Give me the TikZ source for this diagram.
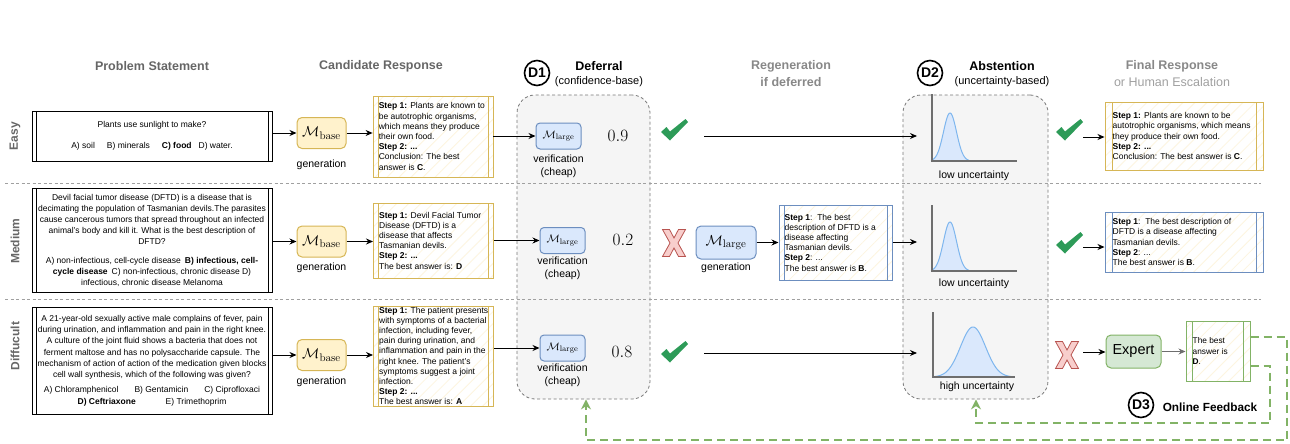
\documentclass[tikz,border=0pt]{standalone}
\usepackage[no-math]{fontspec}
\setmainfont{Liberation Sans}
\usetikzlibrary{arrows.meta,patterns.meta,calc}
\definecolor{ylS}{HTML}{D6B656}
\definecolor{ylF}{HTML}{FFF2CC}
\definecolor{ylH}{HTML}{FDF5E0}
\definecolor{blS}{HTML}{6C8EBF}
\definecolor{blF}{HTML}{DAE8FC}
\definecolor{grS}{HTML}{82B366}
\definecolor{grF}{HTML}{D5E8D4}
\definecolor{rdS}{HTML}{B85450}
\definecolor{rdF}{HTML}{F8CECC}
\definecolor{chkG}{HTML}{2D9B58}
\definecolor{hdG}{HTML}{666666}
\definecolor{hdM}{HTML}{888888}
\definecolor{hdL}{HTML}{A0A0A0}
\definecolor{regF}{HTML}{F5F5F5}
\definecolor{regS}{HTML}{777777}
\definecolor{crvB}{HTML}{7EB6EE}
\definecolor{axG}{HTML}{6E6E6E}
\newcommand{\fsz}[2]{\fontsize{#1}{#2}\selectfont}
\tikzset{
  hd/.style={font=\fsz{12.5}{14}\bfseries, text=hdG, inner sep=0pt},
  hdm/.style={font=\fsz{12.5}{14}\bfseries, text=hdM, inner sep=0pt},
  hdk/.style={font=\fsz{12.5}{14}\bfseries, text=black, inner sep=0pt},
  subk/.style={font=\fsz{11}{13}, text=black, inner sep=0pt},
  rowlab/.style={font=\fsz{12}{14}\bfseries, text=hdG, rotate=90, inner sep=0pt},
  dcirc/.style={circle, draw=black, line width=1.6pt, minimum size=25pt, inner sep=0pt, font=\fsz{14}{14}\bfseries},
  inlines/.style 2 args={path picture={\draw[#1] ([xshift=#2]path picture bounding box.north west) -- ([xshift=#2]path picture bounding box.south west) ([xshift=-#2]path picture bounding box.north east) -- ([xshift=-#2]path picture bounding box.south east);}},
  hatch/.style={preaction={fill=white}, pattern={Lines[angle=45,distance=8.5pt,line width=0.8pt]}, pattern color=ylH},
  probbox/.style={draw=black, line width=0.9pt, fill=white, minimum width=240pt, inner sep=0pt, inlines={black,line width=0.9pt}{4pt}},
  ptext/.style={align=center, inner sep=0pt, font=\fsz{8.5}{11}},
  candbox/.style={draw=#1, line width=1pt, hatch, inlines={#1,line width=1pt}{5pt}, inner sep=0pt},
  ctext/.style={align=left, inner sep=0pt, font=\fsz{8.5}{10.2}, anchor=west},
  mbase/.style={draw=ylS, fill=ylF, line width=1pt, rounded corners=5pt, minimum width=49pt, minimum height=31pt, inner sep=0pt, font=\fsz{15}{15}},
  mver/.style={draw=blS, fill=blF, line width=1pt, rounded corners=4pt, minimum width=45pt, minimum height=26pt, inner sep=0pt, font=\fsz{11}{11}},
  mgen/.style={draw=blS, fill=blF, line width=1pt, rounded corners=5pt, minimum width=60pt, minimum height=33pt, inner sep=0pt, font=\fsz{15}{15}},
  lab/.style={align=center, inner sep=0pt, font=\fsz{10.5}{12.8}},
  numb/.style={inner sep=0pt, font=\fsz{18}{18}},
  region/.style={draw=regS, fill=regF, line width=0.8pt, dash pattern=on 3pt off 2.5pt, rounded corners=18pt, inner sep=0pt, minimum width=#1, minimum height=304pt},
  sep/.style={draw=hdL, line width=0.8pt, dash pattern=on 3pt off 2.5pt},
  arr/.style={draw=black, line width=1pt, -{Stealth[length=7pt,width=6pt]}},
  fb/.style={draw=grS, line width=2.6pt, dash pattern=on 8pt off 5pt, -{Stealth[length=10pt,width=10pt]}},
  exbox/.style={draw=grS, fill=grF, line width=1pt, rounded corners=5pt, minimum width=55pt, minimum height=33pt, inner sep=0pt, font=\fsz{14.5}{14.5}},
  axis/.style={draw=axG, line width=1.4pt},
  crv/.style={draw=crvB, line width=1pt},
  chk/.pic={\fill[chkG] (-13,2) -- (-4,10.5) -- (14,-8) -- (11.5,-11) -- (-4,1.5) -- (-7.5,-3) -- cycle;},
  crs/.pic={\draw[rdS, fill=rdF, line width=0.8pt, line join=miter] (-11.5,-13.5) -- (-4.5,-13.5) -- (0,-5) -- (4.5,-13.5) -- (11.5,-13.5) -- (4,0) -- (11.5,13.5) -- (4.5,13.5) -- (0,5) -- (-4.5,13.5) -- (-11.5,13.5) -- (-4,0) -- cycle;}
}
\begin{document}
\begin{tikzpicture}[x=1pt,y=-1pt]
\useasboundingbox (0,0) rectangle (1290,444);
% regions
\node[region=133pt] (dfr) at (583.5,247) {};
\node[region=145pt] (abs) at (975.5,247) {};
% separators
\coordinate (sepA1) at (5,183); \coordinate (sepA2) at (1261,183);
\draw[sep] (sepA1) -- (sepA2);
\coordinate (sepB1) at (5,299); \coordinate (sepB2) at (1261,299);
\draw[sep] (sepB1) -- (sepB2);
% headings
\node[hd] (hPS) at (152,66) {Problem Statement};
\node[hd] (hCR) at (381,66) {Candidate Response};
\node[dcirc] (d1c) at (537,73) {D1};
\node[hdk] (hDef) at (599,66) {Deferral};
\node[subk] (hDefs) at (599,82) {(confidence-base)};
\node[hdm] (hReg) at (791,66) {Regeneration};
\node[hdm] (hReg2) at (791,82) {if deferred};
\node[dcirc] (d2c) at (930,73) {D2};
\node[hdk] (hAbs) at (1002,66) {Abstention};
\node[subk] (hAbss) at (1002,82) {(uncertainty-based)};
\node[hdm] (hFin) at (1172,66) {Final Response};
\node[font=\fsz{12.5}{14}, text=hdL, inner sep=0pt] (hFins) at (1172,82) {or Human Escalation};
% row labels
\node[rowlab] (lE) at (15,136) {Easy};
\node[rowlab] (lM) at (15,241) {Medium};
\node[rowlab] (lD) at (15,346) {Diffucult};

% ================= EASY =================
\node[probbox, minimum height=50pt] (p1) at (152,136) {};
\node[ptext] (p1t) at (p1.center) {Plants use sunlight to make?\\[10pt]A) soil\hspace{12pt}B) minerals\hspace{12pt}\textbf{C) food}\hspace{7pt}D) water.};
\node[mbase] (m1) at (321.5,133) {$\mathcal{M}_{\mathrm{base}}$};
\node[lab] (g1) at (321.5,165) {generation};
\draw[arr] (m1.west -| p1.east) -- (m1.west);
\node[candbox=ylS, minimum width=120pt, minimum height=81pt] (c1) at (433,136.5) {};
\node[ctext] (c1t) at ([xshift=6pt]c1.west) {\textbf{Step 1:} Plants are known to\\be autotrophic organisms,\\which means they produce\\their own food.\\\textbf{Step 2: ...}\\Conclusion: The best\\answer is \textbf{C}.};
\draw[arr] (m1.east) -- (m1.east -| c1.west);
\node[mver] (v1) at (558.5,136) {$\mathcal{M}_{\mathrm{large}}$};
\node[lab] (vl1) at (558.5,166) {verification\\(cheap)};
\draw[arr] (c1.east |- v1.west) -- (v1.west);
\node[numb] (n1) at (618,136) {$0.9$};
\pic at (674,130) {chk};
\coordinate (s1) at (704,136); \coordinate (e1) at (917,136);
\draw[arr] (s1) -- (e1);
\fill[blF] plot[domain=-19:19, samples=60] ({950+\x},{161-48*exp(-(\x)^2/85)}) -- cycle;
\draw[crv] plot[domain=-19:19, samples=60] ({950+\x},{161-48*exp(-(\x)^2/85)});
\draw[axis] (932,94) -- (932,161) -- (1017,161);
\node[lab] (ul1) at (974,176) {low uncertainty};
\pic at (1069,130) {chk};
\coordinate (a1) at (1083,137);
\node[candbox=ylS, minimum width=158pt, minimum height=68pt, inlines={ylS,line width=1pt}{7pt}] (f1) at (1184,136) {};
\node[ctext] (f1t) at ([xshift=8pt]f1.west) {\textbf{Step 1:} Plants are known to be\\autotrophic organisms, which means\\they produce their own food.\\\textbf{Step 2: ...}\\Conclusion: The best answer is \textbf{C}.};
\draw[arr] (a1) -- (a1 -| f1.west);

% ================= MEDIUM =================
\node[probbox, minimum height=104pt] (p2) at (152,240) {};
\node[ptext] (p2t) at (p2.center) {Devil facial tumor disease (DFTD) is a disease that is\\decimating the population of Tasmanian devils.The parasites\\cause cancerous tumors that spread throughout an infected\\animal's body and kill it. What is the best description of\\DFTD?\\[8pt]A) non-infectious, cell-cycle disease\hspace{4pt}\textbf{B) infectious, cell-}\\\textbf{cycle disease}\hspace{4pt}C) non-infectious, chronic disease D)\\infectious, chronic disease Melanoma};
\node[mbase] (m2) at (321.5,241.5) {$\mathcal{M}_{\mathrm{base}}$};
\node[lab] (g2) at (321.5,268) {generation};
\draw[arr] (m2.west -| p2.east) -- (m2.west);
\node[candbox=ylS, minimum width=120pt, minimum height=75pt] (c2) at (433.5,240.5) {};
\node[ctext] (c2t) at ([xshift=6pt]c2.west) {\textbf{Step 1:} Devil Facial Tumor\\Disease (DFTD) is a\\disease that affects\\Tasmanian devils.\\\textbf{Step 2: ...}\\The best answer is: \textbf{D}};
\draw[arr] (m2.east) -- (m2.east -| c2.west);
\node[mver] (v2) at (562.5,240.5) {$\mathcal{M}_{\mathrm{large}}$};
\node[lab] (vl2) at (562.5,268) {verification\\(cheap)};
\draw[arr] (c2.east |- v2.west) -- (v2.west);
\node[numb] (n2) at (623,240) {$0.2$};
\pic at (674,243) {crs};
\node[mgen] (mg) at (726,242.5) {$\mathcal{M}_{\mathrm{large}}$};
\node[lab] (mgl) at (726,268) {generation};
\node[candbox=blS, minimum width=113pt, minimum height=75pt] (r2) at (835.5,242.5) {};
\node[ctext] (r2t) at ([xshift=6pt]r2.west) {\textbf{Step 1}:\ \ The best\\description of DFTD is a\\disease affecting\\Tasmanian devils.\\\textbf{Step 2}: ...\\The best answer is \textbf{B}.};
\draw[arr] (mg.east) -- (mg.east -| r2.west);
\coordinate (e2) at (917,242);
\draw[arr] (r2.east |- e2) -- (e2);
\fill[blF] plot[domain=-19:19, samples=60] ({950+\x},{271-49*exp(-(\x)^2/85)}) -- cycle;
\draw[crv] plot[domain=-19:19, samples=60] ({950+\x},{271-49*exp(-(\x)^2/85)});
\draw[axis] (932,205) -- (932,271) -- (1017,271);
\node[lab] (ul2) at (974,284) {low uncertainty};
\pic at (1069,243) {chk};
\coordinate (a2) at (1083,247);
\node[candbox=blS, minimum width=158pt, minimum height=60pt, inlines={blS,line width=1pt}{7pt}] (f2) at (1184,242) {};
\node[ctext] (f2t) at ([xshift=8pt]f2.west) {\textbf{Step 1}:\ \ The best description of\\DFTD is a disease affecting\\Tasmanian devils.\\\textbf{Step 2}: ...\\The best answer is \textbf{B}.};
\draw[arr] (a2) -- (a2 -| f2.west);

% ================= DIFFICULT =================
\node[probbox, minimum height=107pt] (p3) at (152,360.5) {};
\node[ptext, font=\fsz{8.5}{11.3}] (p3t) at (p3.center) {A 21-year-old sexually active male complains of fever, pain\\during urination, and inflammation and pain in the right knee.\\A culture of the joint fluid shows a bacteria that does not\\ferment maltose and has no polysaccharide capsule. The\\mechanism of action of action of the medication given blocks\\cell wall synthesis, which of the following was given?\\[4pt]A) Chloramphenicol\hspace{16pt}B) Gentamicin\hspace{16pt}C) Ciprofloxaci\\\textbf{D) Ceftriaxone}\hspace{30pt}E) Trimethoprim};
\node[mbase] (m3) at (321.5,355) {$\mathcal{M}_{\mathrm{base}}$};
\node[lab] (g3) at (321.5,382) {generation};
\draw[arr] (m3.west -| p3.east) -- (m3.west);
\node[candbox=ylS, minimum width=120pt, minimum height=100pt] (c3) at (433.5,356) {};
\node[ctext] (c3t) at ([xshift=6pt]c3.west) {\textbf{Step 1:} The patient presents\\with symptoms of a bacterial\\infection, including fever,\\pain during urination, and\\inflammation and pain in the\\right knee. The patient's\\symptoms suggest a joint\\infection.\\\textbf{Step 2: ...}\\The best answer is: \textbf{A}};
\draw[arr] (m3.east) -- (m3.east -| c3.west);
\node[mver] (v3) at (562.5,348) {$\mathcal{M}_{\mathrm{large}}$};
\node[lab] (vl3) at (562.5,375.5) {verification\\(cheap)};
\draw[arr] (c3.east |- v3.west) -- (v3.west);
\node[numb] (n3) at (622,352) {$0.8$};
\pic at (674,352) {chk};
\coordinate (s3) at (704,353); \coordinate (e3) at (917,353);
\draw[arr] (s3) -- (e3);
\fill[blF] plot[domain=-38:38, samples=80] ({973+\x},{377-50*exp(-(\x)^2/314)}) -- cycle;
\draw[crv] plot[domain=-38:38, samples=80] ({973+\x},{377-50*exp(-(\x)^2/314)});
\draw[axis] (933,312) -- (933,377) -- (1015,377);
\node[lab] (ul3) at (977,387) {high uncertainty};
\pic at (1067,355) {crs};
\coordinate (a3) at (1083,352);
\node[exbox] (ex) at (1133.5,351.5) {Expert};
\draw[arr] (a3) -- (a3 -| ex.west);
\node[candbox=grS, minimum width=64pt, minimum height=60pt, inlines={grS,line width=1pt}{6.5pt}] (f3) at (1218,351) {};
\node[ctext, font=\fsz{8.3}{10.3}] (f3t) at ([xshift=7pt]f3.west) {The best\\answer is\\\textbf{D}.};
\draw[arr, draw=axG] (ex.east) -- (ex.east -| f3.west);

% ================= ONLINE FEEDBACK =================
\coordinate (fbR1) at (1287,440); \coordinate (fbA) at (586,440);
\coordinate (fbR2) at (1270,423); \coordinate (fbB) at (976,423);
\draw[fb] ($(f3.east)+(0,-14)$) -| (fbR1) -- (fbA) -- (fbA |- dfr.south);
\draw[fb] ($(f3.east)+(0,15)$) -| (fbR2) -- (fbB) -- (fbB |- abs.south);
\node[dcirc] (d3c) at (1141,405) {D3};
\node[font=\fsz{11.8}{13}\bfseries, inner sep=0pt] (ofb) at (1210,407) {Online Feedback};
\end{tikzpicture}
\end{document}
